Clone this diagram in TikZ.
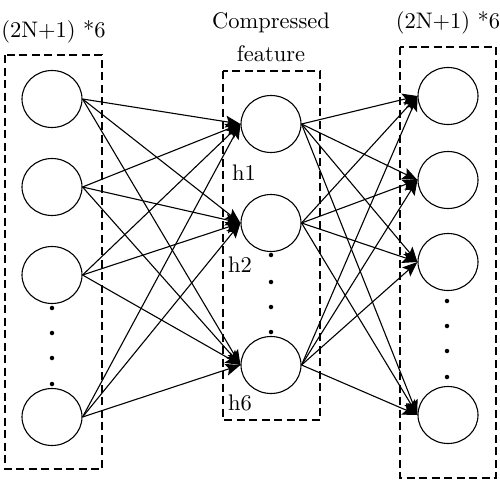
\documentclass[tikz,border=0pt]{standalone}
\usepackage{fontspec}
\setmainfont{lmroman10-regular}[Extension=.otf]
\usetikzlibrary{arrows.meta,shapes.geometric}
\begin{document}
\begin{tikzpicture}[%
	x=1pt, y=-1pt,
	every node/.style = {font=\fontsize{22.5}{33}\selectfont, inner sep=0pt},
	neuron/.style = {shape=ellipse, draw, line width=1.1pt, minimum width=60pt, minimum height=57pt},
	layerBox/.style = {draw, line width=1.1pt, dash pattern=on 8pt off 4.5pt},
	link/.style = {draw, line width=1.1pt, -{Stealth[length=15pt,width=12pt,inset=3pt]}},
	dotMark/.style = {shape=circle, fill, minimum size=4.5pt}
	]
  \useasboundingbox (0,0) rectangle (500,479);
  % layer frames
  \draw [layerBox] (5,55) rectangle (102,469);
  \draw [layerBox] (223,71) rectangle (320,420);
  \draw [layerBox] (400,47) rectangle (496,478);
  % labels
  \node [anchor=base] (inLabel) at (53.5,37) {(2N+1) *6};
  \node [anchor=base, align=center] (hidLabel) at (271,61) {Compressed\\feature};
  \node [anchor=base] (outLabel) at (448,28) {(2N+1) *6};
  % input layer
  \node [neuron] (in1) at (52,99) {};
  \node [neuron] (in2) at (52,187) {};
  \node [neuron] (in3) at (52,275) {};
  \node [neuron] (in4) at (52,417) {};
  % hidden layer
  \node [neuron] (hid1) at (271,124) {};
  \node [neuron] (hid2) at (271,223) {};
  \node [neuron] (hid6) at (271,365) {};
  \node [anchor=base] (hName1) at (244,180) {h1};
  \node [anchor=base] (hName2) at (240,272) {h2};
  \node [anchor=base] (hName6) at (240,410) {h6};
  % output layer
  \node [neuron] (out1) at (448,96) {};
  \node [neuron] (out2) at (448,180) {};
  \node [neuron] (out3) at (448,262) {};
  \node [neuron] (out4) at (448,415) {};
  % dots
  \node [dotMark] (inDot1) at (52,308) {};
  \node [dotMark] (inDot2) at (52,333) {};
  \node [dotMark] (inDot3) at (52,358) {};
  \node [dotMark] (inDot4) at (52,384) {};
  \node [dotMark] (hidDot1) at (271,255) {};
  \node [dotMark] (hidDot2) at (271,282) {};
  \node [dotMark] (hidDot3) at (271,307) {};
  \node [dotMark] (hidDot4) at (271,332) {};
  \node [dotMark] (outDot1) at (447,301) {};
  \node [dotMark] (outDot2) at (447,326) {};
  \node [dotMark] (outDot3) at (447,351) {};
  \node [dotMark] (outDot4) at (447,377) {};
  % connections
  \foreach \src in {in1,in2,in3,in4}
    \path (\src.east) edge [link] (hid1.west) edge [link] (hid2.west) edge [link] (hid6.west);
  \foreach \src in {hid1,hid2,hid6}
    \path (\src.east) edge [link] (out1.west) edge [link] (out2.west)
      edge [link] (out3.west) edge [link] (out4.west);
\end{tikzpicture}
\end{document}
